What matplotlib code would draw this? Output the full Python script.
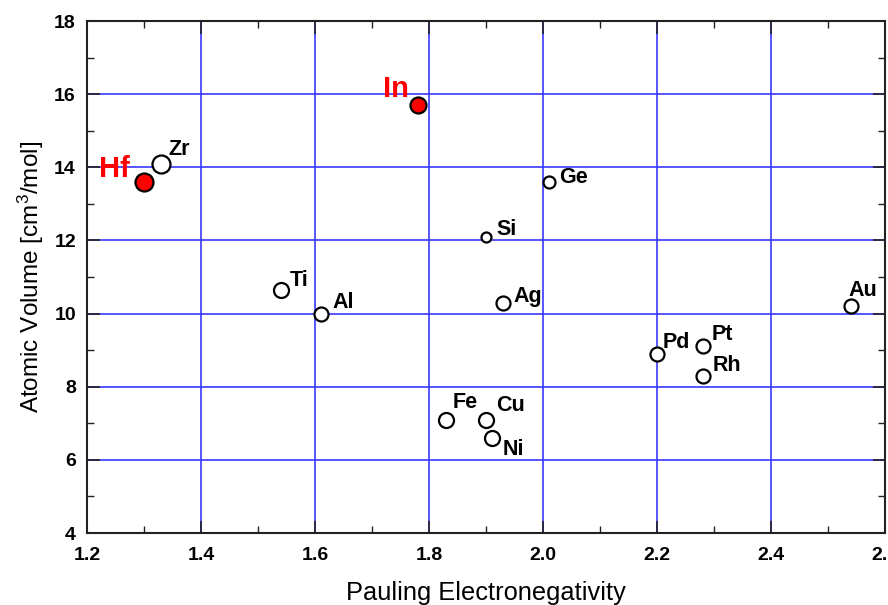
import matplotlib
matplotlib.use("Agg")
import matplotlib.pyplot as plt
from matplotlib.ticker import MultipleLocator

plt.rcParams['font.family'] = ['Liberation Sans', 'DejaVu Sans']
plt.rcParams['mathtext.default'] = 'regular'

# ---- data ----
elements = ["Hf", "Zr", "In", "Ge", "Si", "Ti", "Al", "Ag", "Au", "Pd", "Pt", "Rh", "Fe", "Cu", "Ni"]
electroneg = [1.30, 1.33, 1.78, 2.01, 1.90, 1.54, 1.61, 1.93, 2.54, 2.20, 2.28, 2.28, 1.83, 1.90, 1.91]
atomic_volume = [13.6, 14.1, 15.7, 13.6, 12.1, 10.65, 10.0, 10.3, 10.2, 8.9, 9.1, 8.3, 7.1, 7.1, 6.6]
highlighted = ["Hf", "In"]

# ---- styles ----
marker_px = [18, 18, 16, 12, 10, 15, 14, 14, 14, 14, 14, 14, 15, 15, 15]
label_dx = [-14, 7, -9, 10, 10, 9, 12, 10, -2, 6, 9, 10, 7, 10, 11]
label_dy = [5, 9, 8, -1, 2, 4, 6, 1, 10, 6, 6, 5, 12, 9, -17]
label_ha = ["right", "left", "right"] + ["left"] * 12

fig = plt.figure(figsize=(8.88, 6.05), dpi=100)
ax = fig.add_axes([87/888, 1 - 533/605, (885 - 87)/888, (533 - 21)/605])

for i, el in enumerate(elements):
    hi = el in highlighted
    ms = marker_px[i] * 0.72
    ax.plot(electroneg[i], atomic_volume[i], marker='o', linestyle='none',
            markersize=ms, markerfacecolor='#ff0000' if hi else 'white',
            markeredgecolor='black', markeredgewidth=1.6, zorder=5, clip_on=False)
    ax.annotate(el, (electroneg[i], atomic_volume[i]),
                xytext=(label_dx[i], label_dy[i]), textcoords='offset pixels',
                ha=label_ha[i], va='baseline', fontweight='bold',
                fontsize=21 if hi else 15.5,
                color='#ff0000' if hi else 'black', zorder=6)

ax.set_xlim(1.2, 2.6)
ax.set_ylim(4, 18)
ax.xaxis.set_major_locator(MultipleLocator(0.2))
ax.xaxis.set_minor_locator(MultipleLocator(0.1))
ax.yaxis.set_major_locator(MultipleLocator(2))
ax.yaxis.set_minor_locator(MultipleLocator(1))
ax.xaxis.set_major_formatter(plt.FuncFormatter(lambda v, p: f"{v:.1f}"))
ax.yaxis.set_major_formatter(plt.FuncFormatter(lambda v, p: f"{v:.0f}"))

ax.grid(True, which='major', color='#3838ff', linewidth=1.2)
ax.set_axisbelow(True)
ax.tick_params(which='both', direction='in', top=True, right=True, color='#222222')
ax.tick_params(which='major', length=9, width=1.2, labelsize=14)
ax.tick_params(axis='x', which='major', pad=10)
ax.tick_params(axis='y', which='major', pad=8)
ax.tick_params(which='minor', length=5, width=1.0)
for lbl in ax.get_xticklabels() + ax.get_yticklabels():
    lbl.set_fontweight('bold')
for sp in ax.spines.values():
    sp.set_linewidth(1.5)
    sp.set_color('#222222')

ax.set_xlabel("Pauling Electronegativity", fontsize=18.3, labelpad=12)
ax.set_ylabel("Atomic Volume [cm$^3$/mol]", fontsize=17.5, labelpad=6)

fig.savefig("out.png", dpi=100)
